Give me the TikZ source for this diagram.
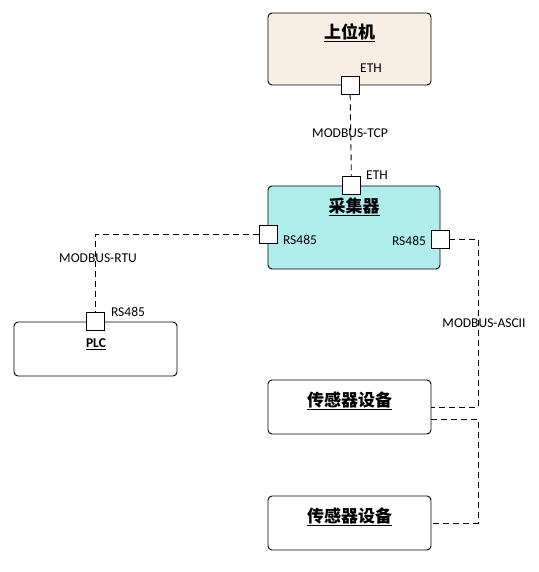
\documentclass[tikz,border=0pt]{standalone}
\usepackage{fontspec}
\setmainfont{Carlito}
\newfontfamily\cjk{Noto Sans CJK SC}
\usetikzlibrary{positioning}

\definecolor{hostfill}{HTML}{F8EEE4}
\definecolor{collfill}{HTML}{B0EEEE}

\begin{document}
\begin{tikzpicture}[x=1pt,y=-1pt,
  box/.style={rectangle,draw,rounded corners=4pt,line width=0.9pt,minimum width=163pt,minimum height=54pt},
  port/.style={rectangle,draw,fill=white,line width=0.9pt,minimum size=18pt,inner sep=0pt},
  title/.style={font=\cjk\bfseries\fontsize{17}{19}\selectfont},
  lbl/.style={font=\fontsize{13.5}{15}\selectfont,inner sep=1pt},
  bus/.style={line width=0.9pt,dash pattern=on 6pt off 4pt}]

\useasboundingbox (0,0) rectangle (538,572);

%Nodes
\node (host) at (349.5,49) [box,fill=hostfill,minimum height=72pt] {};
\node (col) at (354,227.5) [box,fill=collfill,minimum width=172pt,minimum height=83pt] {};
\node (plc) at (95.5,349) [box] {};
\node (sensor1) at (349.5,407) [box] {};
\node (sensor2) at (349.5,523) [box] {};

\node (hostT) at (349.5,33) [title] {\underline{上位机}};
\node (colT) at (354,207) [title] {\underline{采集器}};
\node (plcT) at (96,344) [font=\bfseries\fontsize{13.5}{15}\selectfont] {\underline{PLC}};
\node (sensor1T) at (349.5,401) [title] {\underline{传感器设备}};
\node (sensor2T) at (349.5,517) [title] {\underline{传感器设备}};

%Ports
\node (hostP) at (350,85) [port] {};
\node (colP) at (351.5,185) [port] {};
\node (colL) at (268,234.5) [port] {};
\node (colR) at (440,239) [port] {};
\node (plcP) at (95.5,321) [port] {};

\node (hostE) at (371,68) [lbl] {ETH};
\node (colE) at (377,175) [lbl] {ETH};
\node (colLE) at (300,240) [lbl] {RS485};
\node (colRE) at (409,241) [lbl] {RS485};
\node (plcE) at (128,312) [lbl] {RS485};

\coordinate (ascii) at (478,0);

\draw[bus] (hostP) to (colP);
\draw[bus] (colL) -| (plcP);
\draw[bus] (colR) -| (ascii |- sensor1.east) to (sensor1.east);
\draw[bus] ([yshift=-12pt]sensor1.east) -| (ascii |- sensor2.east) to (sensor2.east);

\node (tcp) at (350,133) [lbl] {MODBUS-TCP};
\node (rtu) at (98,258) [lbl] {MODBUS-RTU};
\node (asc) at (484,323) [lbl] {MODBUS-ASCII};

\end{tikzpicture}
\end{document}
